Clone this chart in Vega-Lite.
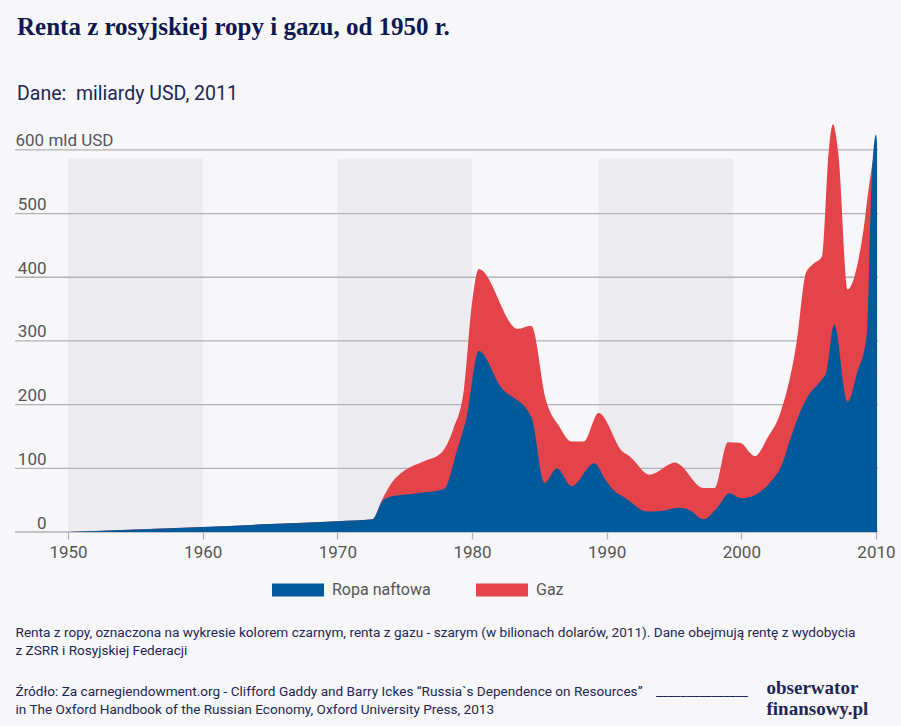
{
  "$schema": "https://vega.github.io/schema/vega-lite/v6.json",
  "width": 863,
  "height": 414,
  "autosize": "none",
  "padding": {"left": 15, "top": 118, "right": 23, "bottom": 194},
  "background": "#f7f7f9",
  "title": {
    "text": "Renta z rosyjskiej ropy i gazu, od 1950 r.",
    "subtitle": "Dane:\u00a0 miliardy USD, 2011",
    "anchor": "start",
    "frame": "group",
    "dx": 2,
    "offset": 15,
    "font": "Liberation Serif",
    "fontSize": 25,
    "fontWeight": "bold",
    "color": "#0d1850",
    "subtitleFont": "Roboto",
    "subtitleFontSize": 19.5,
    "subtitleColor": "#1d2654",
    "subtitlePadding": 45
  },
  "datasets": {
    "pasy": [
      {"rok": 1950, "rok_konca": 1960},
      {"rok": 1970, "rok_konca": 1980},
      {"rok": 1989.4, "rok_konca": 1999.4}
    ],
    "siatka": [
      {"wartosc": 0}, {"wartosc": 100}, {"wartosc": 200}, {"wartosc": 300},
      {"wartosc": 400}, {"wartosc": 500}, {"wartosc": 600}
    ],
    "razem": [
      {"rok": 1950, "wartosc": 0},
      {"rok": 1955, "wartosc": 4},
      {"rok": 1960, "wartosc": 8},
      {"rok": 1965, "wartosc": 12.5},
      {"rok": 1970, "wartosc": 17},
      {"rok": 1972.6, "wartosc": 20},
      {"rok": 1973.3, "wartosc": 50},
      {"rok": 1974.0, "wartosc": 76},
      {"rok": 1975.1, "wartosc": 98},
      {"rok": 1976.3, "wartosc": 110},
      {"rok": 1977.7, "wartosc": 124},
      {"rok": 1978.6, "wartosc": 161},
      {"rok": 1979.4, "wartosc": 224},
      {"rok": 1980.0, "wartosc": 360},
      {"rok": 1980.5, "wartosc": 413},
      {"rok": 1983.4, "wartosc": 319},
      {"rok": 1984.4, "wartosc": 324},
      {"rok": 1985.5, "wartosc": 206},
      {"rok": 1986.5, "wartosc": 165},
      {"rok": 1987.4, "wartosc": 142},
      {"rok": 1988.3, "wartosc": 142},
      {"rok": 1989.4, "wartosc": 187},
      {"rok": 1991.2, "wartosc": 126},
      {"rok": 1991.7, "wartosc": 119},
      {"rok": 1993.2, "wartosc": 90},
      {"rok": 1995.1, "wartosc": 109},
      {"rok": 1995.4, "wartosc": 106},
      {"rok": 1997.2, "wartosc": 69},
      {"rok": 1998.0, "wartosc": 69},
      {"rok": 1999.0, "wartosc": 141},
      {"rok": 1999.9, "wartosc": 140},
      {"rok": 2001.0, "wartosc": 119},
      {"rok": 2002.0, "wartosc": 150},
      {"rok": 2002.9, "wartosc": 187},
      {"rok": 2004.1, "wartosc": 297},
      {"rok": 2004.8, "wartosc": 407},
      {"rok": 2005.3, "wartosc": 420},
      {"rok": 2006.0, "wartosc": 433},
      {"rok": 2006.5, "wartosc": 600},
      {"rok": 2006.8, "wartosc": 640},
      {"rok": 2007.2, "wartosc": 595},
      {"rok": 2007.9, "wartosc": 381},
      {"rok": 2009.0, "wartosc": 464},
      {"rok": 2009.6, "wartosc": 560},
      {"rok": 2010.0, "wartosc": 600},
      {"rok": 2010.05, "wartosc": 590}
    ],
    "ropa": [
      {"rok": 1950, "wartosc": 0},
      {"rok": 1955, "wartosc": 4},
      {"rok": 1960, "wartosc": 8},
      {"rok": 1965, "wartosc": 12.5},
      {"rok": 1970, "wartosc": 17},
      {"rok": 1972.6, "wartosc": 20},
      {"rok": 1973.4, "wartosc": 50},
      {"rok": 1974.1, "wartosc": 56},
      {"rok": 1976.0, "wartosc": 61},
      {"rok": 1977.9, "wartosc": 67},
      {"rok": 1978.9, "wartosc": 129},
      {"rok": 1979.6, "wartosc": 181},
      {"rok": 1980.5, "wartosc": 284},
      {"rok": 1982.1, "wartosc": 229},
      {"rok": 1984.4, "wartosc": 181},
      {"rok": 1985.4, "wartosc": 77},
      {"rok": 1986.3, "wartosc": 100},
      {"rok": 1987.4, "wartosc": 72},
      {"rok": 1989.1, "wartosc": 108},
      {"rok": 1989.9, "wartosc": 82},
      {"rok": 1990.5, "wartosc": 66},
      {"rok": 1991.5, "wartosc": 52},
      {"rok": 1993.0, "wartosc": 32},
      {"rok": 1994.0, "wartosc": 33},
      {"rok": 1995.4, "wartosc": 38},
      {"rok": 1996.1, "wartosc": 35},
      {"rok": 1997.2, "wartosc": 20},
      {"rok": 1998.2, "wartosc": 38},
      {"rok": 1999.1, "wartosc": 61},
      {"rok": 2000.0, "wartosc": 53},
      {"rok": 2001.1, "wartosc": 59},
      {"rok": 2002.1, "wartosc": 77},
      {"rok": 2003.0, "wartosc": 105},
      {"rok": 2003.7, "wartosc": 150},
      {"rok": 2004.3, "wartosc": 185},
      {"rok": 2005.0, "wartosc": 215},
      {"rok": 2006.0, "wartosc": 240},
      {"rok": 2006.3, "wartosc": 250},
      {"rok": 2006.9, "wartosc": 326},
      {"rok": 2007.9, "wartosc": 205},
      {"rok": 2008.6, "wartosc": 250},
      {"rok": 2009.3, "wartosc": 307},
      {"rok": 2009.7, "wartosc": 560},
      {"rok": 2010.0, "wartosc": 624},
      {"rok": 2010.08, "wartosc": 612}
    ]
  },
  "resolve": {"axis": {"y": "independent"}},
  "layer": [
    {
      "data": {"name": "pasy"},
      "mark": {"type": "rect", "color": "#ececf0"},
      "encoding": {
        "x": {
          "field": "rok",
          "type": "quantitative",
          "scale": {"domain": [1946.06, 2010.15], "nice": false, "zero": false}
        },
        "x2": {"field": "rok_konca"},
        "y": {
          "datum": 0,
          "type": "quantitative",
          "scale": {"domain": [0, 650], "nice": false},
          "axis": null
        },
        "y2": {"datum": 586}
      }
    },
    {
      "data": {"name": "siatka"},
      "mark": {"type": "rule", "color": "#b2b2b6", "strokeWidth": 1.3},
      "encoding": {
        "y": {
          "field": "wartosc",
          "type": "quantitative",
          "scale": {"domain": [0, 650], "nice": false},
          "axis": {
            "orient": "right",
            "labels": false,
            "ticks": false,
            "domain": false,
            "grid": false,
            "title": ["obserwator", "finansowy.pl"],
            "titleFont": "Liberation Serif",
            "titleFontSize": 19,
            "titleFontWeight": "bold",
            "titleColor": "#1d2654",
            "titleAngle": 0,
            "titleAlign": "left",
            "titleBaseline": "alphabetic",
            "titleLineHeight": 21,
            "titleX": -112,
            "titleY": 575
          }
        }
      }
    },
    {
      "data": {"name": "razem"},
      "mark": {"type": "area", "interpolate": "monotone"},
      "encoding": {
        "x": {
          "field": "rok",
          "type": "quantitative",
          "scale": {"domain": [1946.06, 2010.15], "nice": false, "zero": false}
        },
        "y": {
          "field": "wartosc",
          "type": "quantitative",
          "scale": {"domain": [0, 650], "nice": false},
          "axis": null
        },
        "color": {"datum": "Gaz", "type": "nominal"}
      }
    },
    {
      "data": {"name": "ropa"},
      "mark": {"type": "area", "interpolate": "monotone"},
      "encoding": {
        "x": {
          "field": "rok",
          "type": "quantitative",
          "scale": {"domain": [1946.06, 2010.15], "nice": false, "zero": false},
          "axis": {
            "values": [1950, 1960, 1970, 1980, 1990, 2000, 2010],
            "format": "d",
            "grid": false,
            "domain": false,
            "ticks": true,
            "tickSize": 7,
            "tickColor": "#b2b2b6",
            "tickWidth": 1.3,
            "labelFont": "Roboto",
            "labelFontSize": 17,
            "labelColor": "#555555",
            "labelPadding": 5,
            "title": [
              "Renta z ropy, oznaczona na wykresie kolorem czarnym, renta z gazu - szarym (w bilionach dolarów, 2011). Dane obejmują rentę z wydobycia",
              "z ZSRR i Rosyjskiej Federacji"
            ],
            "titleFont": "Roboto",
            "titleFontSize": 13.6,
            "titleFontWeight": "normal",
            "titleColor": "#1d2654",
            "titleAlign": "left",
            "titleBaseline": "alphabetic",
            "titleLineHeight": 18.5,
            "titleX": 0,
            "titleY": 104
          }
        },
        "y": {
          "field": "wartosc",
          "type": "quantitative",
          "scale": {"domain": [0, 650], "nice": false},
          "axis": {
            "values": [0, 100, 200, 300, 400, 500, 600],
            "labelExpr": "datum.value == 600 ? '600 mld USD' : datum.label",
            "grid": false,
            "domain": false,
            "ticks": false,
            "tickSize": 0,
            "labelFont": "Roboto",
            "labelFontSize": 17,
            "labelColor": "#555555",
            "labelAlign": {"expr": "datum.value == 600 ? 'left' : 'right'"},
            "labelPadding": {"expr": "datum.value == 600 ? 0 : -31"},
            "labelBaseline": "alphabetic",
            "labelOffset": -4,
            "title": [
              "Źródło: Za carnegiendowment.org - Clifford Gaddy and Barry Ickes “Russia`s Dependence on Resources”\u00a0\u00a0\u00a0 _______________",
              "in The Oxford Handbook of the Russian Economy, Oxford University Press, 2013"
            ],
            "titleFont": "Roboto",
            "titleFontSize": 13.6,
            "titleFontWeight": "normal",
            "titleColor": "#1d2654",
            "titleAngle": 0,
            "titleAlign": "left",
            "titleBaseline": "alphabetic",
            "titleLineHeight": 18,
            "titleX": 0,
            "titleY": 577
          }
        },
        "color": {
          "datum": "Ropa naftowa",
          "type": "nominal",
          "scale": {"domain": ["Ropa naftowa", "Gaz"], "range": ["#00599b", "#e4434a"]},
          "legend": {
            "title": null,
            "orient": "none",
            "direction": "horizontal",
            "legendX": 257,
            "legendY": 446,
            "symbolType": "M-1,-0.25H1V0.25H-1Z",
            "symbolSize": 2704,
            "symbolStrokeWidth": 0,
            "symbolOpacity": 1,
            "labelFont": "Roboto",
            "labelFontSize": 16,
            "labelColor": "#555555",
            "labelOffset": 8,
            "columnPadding": 45,
            "padding": 0
          }
        }
      }
    }
  ],
  "config": {
    "view": {"stroke": null},
    "area": {"opacity": 1}
  }
}
